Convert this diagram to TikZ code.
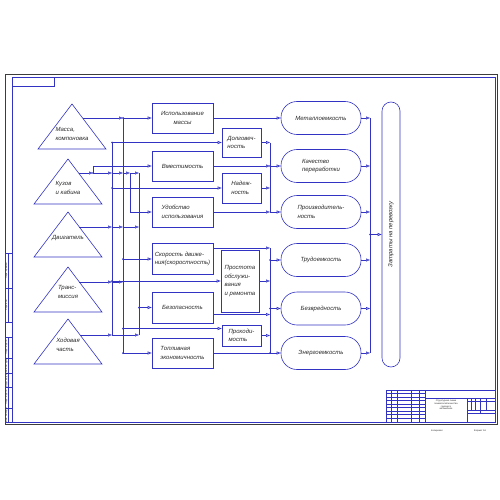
\documentclass[tikz,border=0pt]{standalone}
\usepackage{fontspec}
\setmainfont{Liberation Sans}
\usetikzlibrary{arrows.meta}
\definecolor{schline}{RGB}{50,50,195}
\definecolor{schtext}{RGB}{40,40,40}
\definecolor{sheet}{RGB}{60,60,60}
\begin{document}
\begin{tikzpicture}[x=1pt,y=-1pt]
                  \tikzstyle{every node}+=[inner sep=0pt, text=schtext, align=left, font=\fontsize{6}{8.5}\selectfont\itshape]
                  \tikzstyle{ln}=[draw=schline, line width=0.6pt]
                  \tikzstyle{ar}=[ln, -{Triangle[open, length=4pt, width=3pt]}]
                  \tikzstyle{blk}=[ln, rectangle, minimum width=61pt, minimum height=30pt]
                  \tikzstyle{sml}=[ln, rectangle, minimum width=39pt, minimum height=29pt]
                  \tikzstyle{rnd}=[ln, rectangle, rounded corners=16pt, minimum width=80pt, minimum height=33pt]
                  \tikzstyle{tiny}=[font=\fontsize{2.3}{2.8}\selectfont, align=center]
                  \useasboundingbox (0,0) rectangle (500,500);
                  \draw [draw=sheet, line width=0.5pt] (5,74) rectangle (497,424);
                  \draw [ln] (12,77) rectangle (495,422);
                  \draw [ln] (12,77) rectangle (54,86);
                  \draw [ln] (5,253) rectangle (12,322);
                  \draw [ln] (5,288) -- (12,288);
                  \draw [ln] (8,253) -- (8,322);
                  \draw [ln] (5,337) rectangle (12,422);
                  \draw [ln] (5,358) -- (12,358);
                  \draw [ln] (5,373) -- (12,373);
                  \draw [ln] (5,387) -- (12,387);
                  \draw [ln] (5,408) -- (12,408);
                  \draw [ln] (8,337) -- (8,422);
                  \node [tiny, rotate=90] (st1) at (6.5,270.5) {Перв. примен.};
                  \node [tiny, rotate=90] (st2) at (6.5,305) {Справ. №};
                  \node [tiny, rotate=90] (st3) at (6.5,347.5) {Подп. и дата};
                  \node [tiny, rotate=90] (st4) at (6.5,365.5) {Инв. № дубл.};
                  \node [tiny, rotate=90] (st5) at (6.5,380) {Взам. инв. №};
                  \node [tiny, rotate=90] (st6) at (6.5,397.5) {Подп. и дата};
                  \node [tiny, rotate=90] (st7) at (6.5,415) {Инв. № подл.};
                  \draw [ln] (386,390) rectangle (495,422);
                  \draw [ln] (391,390) -- (391,422);
                  \draw [ln] (397,390) -- (397,422);
                  \draw [ln] (411,390) -- (411,422);
                  \draw [ln] (419,390) -- (419,422);
                  \draw [ln] (425,390) -- (425,422);
                  \draw [ln] (386,393.5) -- (425,393.5);
                  \draw [ln] (386,397) -- (425,397);
                  \draw [ln] (386,400.5) -- (425,400.5);
                  \draw [ln] (386,404) -- (425,404);
                  \draw [ln] (386,407.5) -- (425,407.5);
                  \draw [ln] (386,411) -- (425,411);
                  \draw [ln] (386,414.5) -- (425,414.5);
                  \draw [ln] (386,418) -- (425,418);
                  \draw [ln] (425,398) -- (495,398);
                  \draw [ln] (467,398) -- (467,422);
                  \draw [ln] (467,401.5) -- (495,401.5);
                  \draw [ln] (467,410) -- (495,410);
                  \draw [ln] (467,413.5) -- (495,413.5);
                  \draw [ln] (471,398) -- (471,410);
                  \draw [ln] (475,398) -- (475,410);
                  \draw [ln] (480,398) -- (480,410);
                  \draw [ln] (486,398) -- (486,410);
                  \draw [ln] (480,410) -- (480,413.5);
                  \node [tiny] (ttl) at (446,405) {Структурная схема\\показателей качества\\грузового\\автомобиля};
                  \node [tiny] (frm1) at (437,431) {Копировал};
                  \node [tiny] (frm2) at (480,431) {Формат А3};
                  \draw [ln] (72,104) -- (106,149) -- (38,149) -- cycle;
                  \draw [ln] (68,159) -- (102,204) -- (34,204) -- cycle;
                  \draw [ln] (68,212) -- (102,257) -- (34,257) -- cycle;
                  \draw [ln] (68,267) -- (102,312) -- (34,312) -- cycle;
                  \draw [ln] (68,319) -- (102,364) -- (34,364) -- cycle;
                  \node (t1) at (72,134) {Масса,\\компоновка};
                  \node (t2) at (68,188) {Кузов\\и кабина};
                  \node (t3) at (68,238) {Двигатель};
                  \node (t4) at (68,292) {Транс-\\миссия};
                  \node (t5) at (68,345) {Ходовая\\часть};
                  \coordinate (t1o) at (83,118);
                  \coordinate (t2o) at (79,173);
                  \coordinate (t3o) at (79,227);
                  \coordinate (t4o) at (79,282);
                  \coordinate (t5o) at (80,335);
                  \coordinate (j2) at (93,173);
                  \coordinate (busA) at (112,0);
                  \coordinate (busB) at (123,0);
                  \coordinate (busC) at (130,0);
                  \coordinate (busD) at (139,0);
                  \coordinate (busR) at (270,0);
                  \coordinate (busX) at (370,0);
                  \node [blk, align=center] (b1) at (182.5,118) {Использование\\массы};
                  \node [blk] (b2) at (182.5,166) {Вместимость};
                  \node [blk] (b3) at (182.5,212) {Удобство\\использования};
                  \node [blk, minimum height=31pt] (b4) at (182.5,259) {Скорость движе-\\ния(скоростность)};
                  \node [blk, minimum height=31pt] (b5) at (182.5,307.5) {Безопасность};
                  \node [blk] (b6) at (182.5,353) {Топливная\\экономичность};
                  \node [sml] (s1) at (241.5,142.5) {Долговеч-\\ность};
                  \node [sml, minimum height=30pt] (s2) at (241.5,188) {Надеж-\\ность};
                  \node [sml, minimum width=38pt, minimum height=62pt] (s3) at (240,281) {Простота\\обслужи-\\вания\\и ремонта};
                  \node [sml, minimum height=21pt] (s4) at (241.5,335.5) {Проходи-\\мость};
                  \node [rnd] (r1) at (321,118) {Металлоемкость};
                  \node [rnd] (r2) at (321,166) {Качество\\переработки};
                  \node [rnd] (r3) at (321,212) {Производитель-\\ность};
                  \node [rnd] (r4) at (321,260) {Трудоемкость};
                  \node [rnd] (r5) at (321,308.5) {Безвредность};
                  \node [rnd] (r6) at (321,353) {Энергоемкость};
                  \node [ln, rectangle, rounded corners=9pt, minimum width=265pt, minimum height=18pt, rotate=90] (cost) at (391,234.5) {Затраты на перевозку};
                  \coordinate (s4in) at ([yshift=7pt]s4.west);
                  \coordinate (b4out) at ([yshift=11pt]b4.east);
                  \coordinate (b5out) at ([yshift=-7pt]b5.east);
                  \draw [ln] (busA |- s1.west) -- (busA |- t5o);
                  \draw [ln] (busB |- t1o) -- (busB |- b6.west);
                  \draw [ln] (busC |- t2o) -- (busC |- b3.west);
                  \draw [ln] (busD |- t2o) -- (busD |- t5o);
                  \draw [ar] (t1o) -- (busB |- t1o);
                  \draw [ar] (busB |- t1o) -- (b1.west);
                  \draw [ar] (t2o) -- (j2);
                  \draw [ar] (j2) |- (b2.west);
                  \draw [ar] (j2) -- (busA |- t2o);
                  \draw [ar] (busA |- t2o) -- (busB |- t2o);
                  \draw [ar] (busB |- t2o) -- (busC |- t2o);
                  \draw [ar] (busC |- t2o) -- (busD |- t2o);
                  \draw [ar] (t3o) -- (busA |- t3o);
                  \draw [ar] (busA |- t3o) -- (busB |- t3o);
                  \draw [ar] (busB |- t3o) -- (busD |- t3o);
                  \draw [ar] (t4o) -- (busA |- t4o);
                  \draw [ar] (busA |- t4o) -- (busB |- t4o);
                  \draw [ar] (t5o) -- (busA |- t5o);
                  \draw [ar] (busA |- t5o) -- (busD |- t5o);
                  \draw [ar] (busA |- s1.west) -- (s1.west);
                  \draw [ar] (busA |- s2.west) -- (s2.west);
                  \draw [ar] (busA |- s3.west) -- (s3.west);
                  \draw [ar] (busC |- b3.west) -- (b3.west);
                  \draw [ar] (busB |- b4.west) -- (b4.west);
                  \draw [ar] (busD |- b5.west) -- (b5.west);
                  \draw [ar] (busB |- s4in) -- (s4in);
                  \draw [ar] (busB |- b6.west) -- (b6.west);
                  \draw [ln] (busR |- s1.east) -- (busR |- b3.east);
                  \draw [ln] (busR |- b4out) -- (busR |- b6.east);
                  \draw [ar] (b1.east) -- (r1.west);
                  \draw [ar] (s1.east) -- (busR |- s1.east);
                  \draw [ar] (b2.east) -- (busR |- b2.east);
                  \draw [ar] (s2.east) -- (busR |- s2.east);
                  \draw [ar] (b3.east) -- (busR |- b3.east);
                  \draw [ar] (busR |- r2.west) -- (r2.west);
                  \draw [ar] (busR |- r3.west) -- (r3.west);
                  \draw [ar] (b4out) -- (busR |- b4out);
                  \draw [ar] (s3.east) -- (busR |- s3.east);
                  \draw [ar] (b5out) -- (busR |- b5out);
                  \draw [ar] (s4.east) -- (busR |- s4.east);
                  \draw [ar] (b6.east) -- (r6.west);
                  \draw [ar] (busR |- r4.west) -- (r4.west);
                  \draw [ar] (busR |- r5.west) -- (r5.west);
                  \draw [ln] (busX |- r1.east) -- (busX |- r6.east);
                  \draw [ar] (r1.east) -- (busX |- r1.east);
                  \draw [ar] (r2.east) -- (busX |- r2.east);
                  \draw [ar] (r3.east) -- (busX |- r3.east);
                  \draw [ar] (r4.east) -- (busX |- r4.east);
                  \draw [ar] (r5.east) -- (busX |- r5.east);
                  \draw [ar] (r6.east) -- (busX |- r6.east);
                  \draw [ar] (busX |- cost) -- (cost.north);
                  \fill [schline] (j2) circle (1pt);
                  \fill [schline] (busA |- s1.west) circle (1pt);
                  \fill [schline] (busA |- s2.west) circle (1pt);
                  \fill [schline] (busA |- s3.west) circle (1pt);
                  \fill [schline] (busB |- t1o) circle (1pt);
                  \fill [schline] (busB |- b4.west) circle (1pt);
                  \fill [schline] (busB |- s4in) circle (1pt);
                  \fill [schline] (busB |- b6.west) circle (1pt);
                  \fill [schline] (busD |- b5.west) circle (1pt);
                  \fill [schline] (busR |- r2.west) circle (1pt);
                  \fill [schline] (busR |- r4.west) circle (1pt);
                  \fill [schline] (busR |- r5.west) circle (1pt);
                  \fill [schline] (busR |- b6.east) circle (1pt);
                  \fill [schline] (busX |- cost) circle (1pt);
\end{tikzpicture}
\end{document}
